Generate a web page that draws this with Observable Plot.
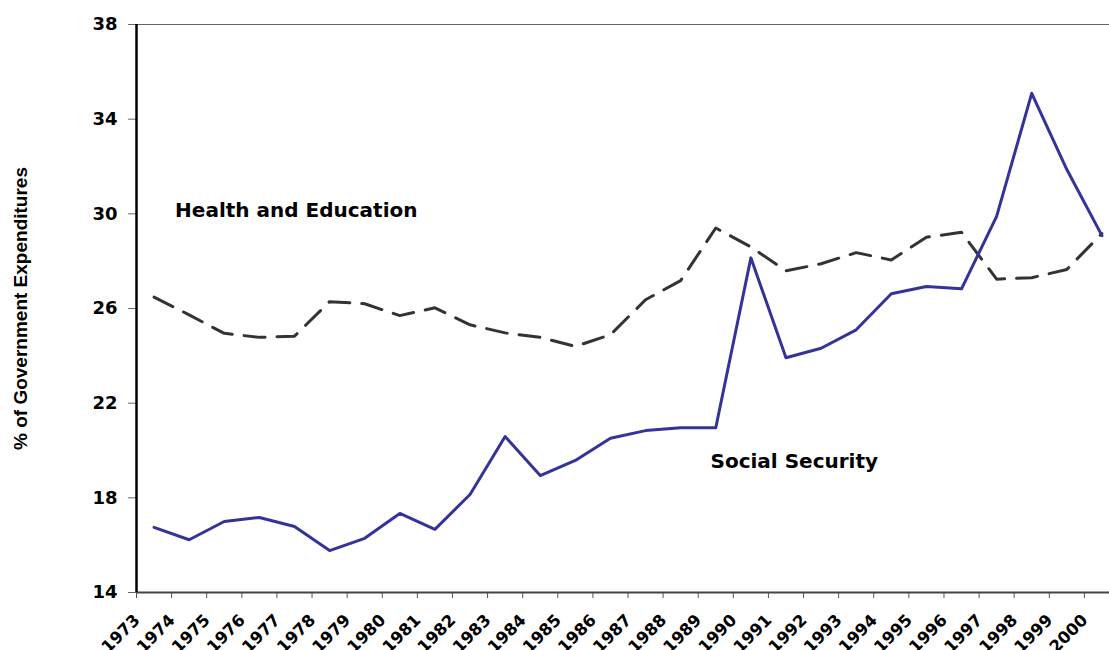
<!DOCTYPE html>
<html><head><meta charset="utf-8">
<script src="https://cdn.jsdelivr.net/npm/d3@7"></script>
<script src="https://cdn.jsdelivr.net/npm/@observablehq/plot@0.6"></script>
<style>
html,body{margin:0;padding:0;background:#fff;overflow:hidden;}
#chart svg{display:block;overflow:visible;max-width:none !important;}
</style></head><body><div id="chart"></div>
<script>
const years = [1973,1974,1975,1976,1977,1978,1979,1980,1981,1982,1983,1984,1985,1986,1987,1988,1989,1990,1991,1992,1993,1994,1995,1996,1997,1998,1999,2000];
const socialSecurity = [16.75,16.23,17.0,17.17,16.79,15.77,16.29,17.34,16.67,18.14,20.59,18.94,19.58,20.52,20.84,20.96,20.96,28.14,23.92,24.32,25.1,26.62,26.93,26.83,29.89,35.09,31.87,29.08];
const healthEducation = [26.48,25.73,24.95,24.78,24.83,26.29,26.2,25.7,26.03,25.31,24.97,24.78,24.4,24.89,26.37,27.18,29.4,28.6,27.59,27.89,28.36,28.05,29.01,29.22,27.24,27.3,27.65,29.17];
const yTicks = [14,18,22,26,30,34,38];
const yTitle = "% of Government Expenditures";
const seriesLabels = ["Health and Education","Social Security"];
const labelYears = [1973.6,1988.85];
const labelValues = [30.14,19.53];

const arial = "'Liberation Sans', Arial, Helvetica, sans-serif";
const wide = "'DejaVu Sans', 'Liberation Sans', Arial, sans-serif";
const ss = years.map((y,i)=>({year:y, value:socialSecurity[i]}));
const he = years.map((y,i)=>({year:y, value:healthEducation[i]}));
const xDomain = [years[0]-0.5, years[years.length-1]+0.5];
const boundaries = years.map(y=>y-0.5).concat([years[years.length-1]+0.5]);
const yDomain = [yTicks[0], yTicks[yTicks.length-1]];
const labels = seriesLabels.map((t,i)=>({text:t, year:labelYears[i], value:labelValues[i]}));

const chart = Plot.plot({
  width: 1125, height: 650,
  marginLeft: 136, marginRight: 6, marginTop: 24, marginBottom: 58,
  style: {fontFamily: wide, background: "#fff", overflow: "visible", maxWidth: "none"},
  x: {domain: xDomain, type: "linear"},
  y: {domain: yDomain},
  marks: [
    Plot.ruleY([yDomain[1]], {stroke: "#666", strokeWidth: 1}),
    Plot.axisY({ticks: yTicks, tickSize: 8, tickPadding: 11, fontSize: 18, fontWeight: "bold", fill: "#000", stroke: "#666", label: null}),
    Plot.axisX({ticks: boundaries, tickSize: 6, tickFormat: () => "", stroke: "#555", label: null}),
    Plot.axisX({ticks: years, tickSize: 0, tickPadding: 25, tickRotate: -45, tickFormat: d => String(d), fontSize: 16.5, fontWeight: "bold", fill: "#000", dx: -17, label: null}),
    Plot.ruleY([yDomain[0]], {stroke: "#444", strokeWidth: 2}),
    Plot.ruleX([xDomain[0]], {stroke: "#000", strokeWidth: 2.5}),
    Plot.lineY(he, {x: "year", y: "value", stroke: "#333", strokeWidth: 3, strokeDasharray: "21,12"}),
    Plot.lineY(ss, {x: "year", y: "value", stroke: "#333399", strokeWidth: 3}),
    Plot.text(labels, {x: "year", y: "value", text: "text", textAnchor: "start", fontSize: 20, fontWeight: "bold", fill: "#000"}),
    Plot.text([yTitle], {frameAnchor: "left", textAnchor: "middle", rotate: -90, dx: -116, fontFamily: arial, fontSize: 19, fontWeight: "bold", fill: "#000"})
  ]
});
document.getElementById("chart").appendChild(chart);
</script></body></html>
